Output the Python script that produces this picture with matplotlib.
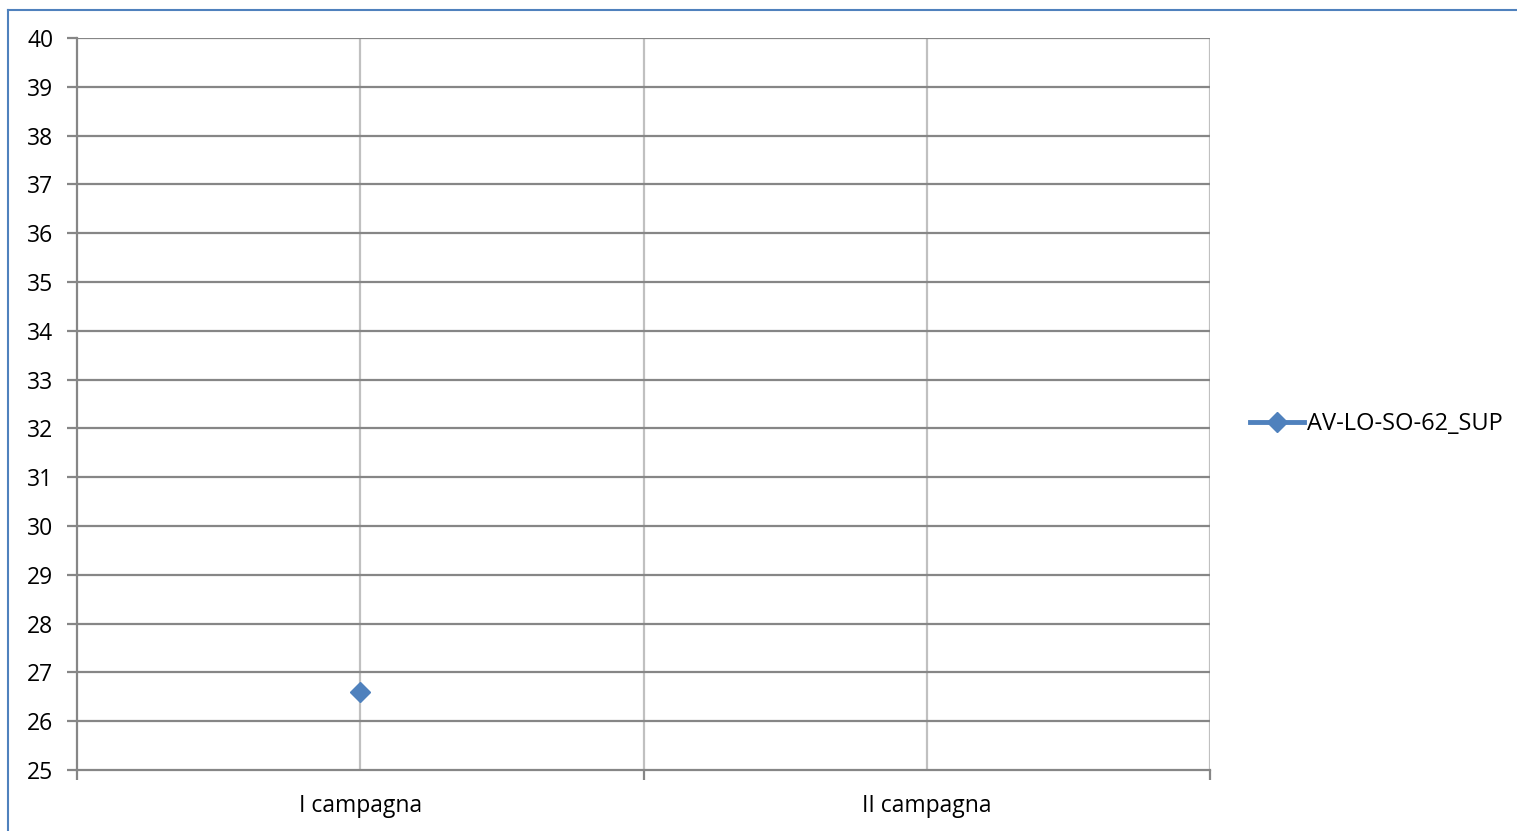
import matplotlib.pyplot as plt
from matplotlib.lines import Line2D

# Dati
categorie = ['I campagna', 'II campagna']
serie_nome = 'AV-LO-SO-62_SUP'
valori = [26.6, None]

y_min, y_max = 25, 40

plt.rcParams['font.family'] = ['Open Sans', 'DejaVu Sans']

fig = plt.figure(figsize=(15.17, 8.31), dpi=100)
W, H = 1517, 831
ax = fig.add_axes([77 / W, 1 - 770 / H, (1210 - 77) / W, (770 - 38) / H])

x_pos = [i + 0.5 for i in range(len(categorie))]
xs = [x for x, v in zip(x_pos, valori) if v is not None]
ys = [v for v in valori if v is not None]
ax.plot(xs, ys, color='#4F81BD', linewidth=3.5, marker='D', markersize=10,
        label=serie_nome, zorder=5, clip_on=False)

ax.set_xlim(0, len(categorie))
ax.set_ylim(y_min, y_max)
ax.set_yticks(range(y_min, y_max + 1))

# griglia orizzontale (scura) e verticale (chiara)
for y in range(y_min + 1, y_max + 1):
    ax.axhline(y, color='#868686', linewidth=1.6, zorder=1)
for x in [0.5, 1.0, 1.5, 2.0]:
    ax.axvline(x, color='#C0C0C0', linewidth=1.6, zorder=0)

for s in ['top', 'right']:
    ax.spines[s].set_visible(False)
ax.spines['left'].set_color('#868686')
ax.spines['bottom'].set_color('#868686')
ax.spines['left'].set_linewidth(1.6)
ax.spines['bottom'].set_linewidth(1.6)

ax.set_xticks([0, 1, 2])
ax.set_xticklabels([])
ax.set_xticks(x_pos, minor=True)
ax.set_xticklabels(categorie, minor=True)
ax.tick_params(axis='x', which='major', length=7, width=1.6, color='#868686')
ax.tick_params(axis='x', which='minor', length=0, pad=17, labelsize=16.5)
ax.tick_params(axis='y', length=7, width=1.6, color='#868686', labelsize=16.5, pad=10)

fig.legend(loc='center left', bbox_to_anchor=(1250 / W, 1 - 424 / H), frameon=False,
           fontsize=17, handlelength=2.3, handletextpad=0.1, borderaxespad=0, borderpad=0)

# bordo del grafico (solo in alto e a sinistra visibile)
fig.add_artist(Line2D([8 / W, 1], [1 - 9.5 / H, 1 - 9.5 / H], color='#4F81BD', linewidth=1.5))
fig.add_artist(Line2D([8 / W, 8 / W], [0, 1 - 9.5 / H], color='#4F81BD', linewidth=1.5))

fig.savefig('out.png', dpi=100)
